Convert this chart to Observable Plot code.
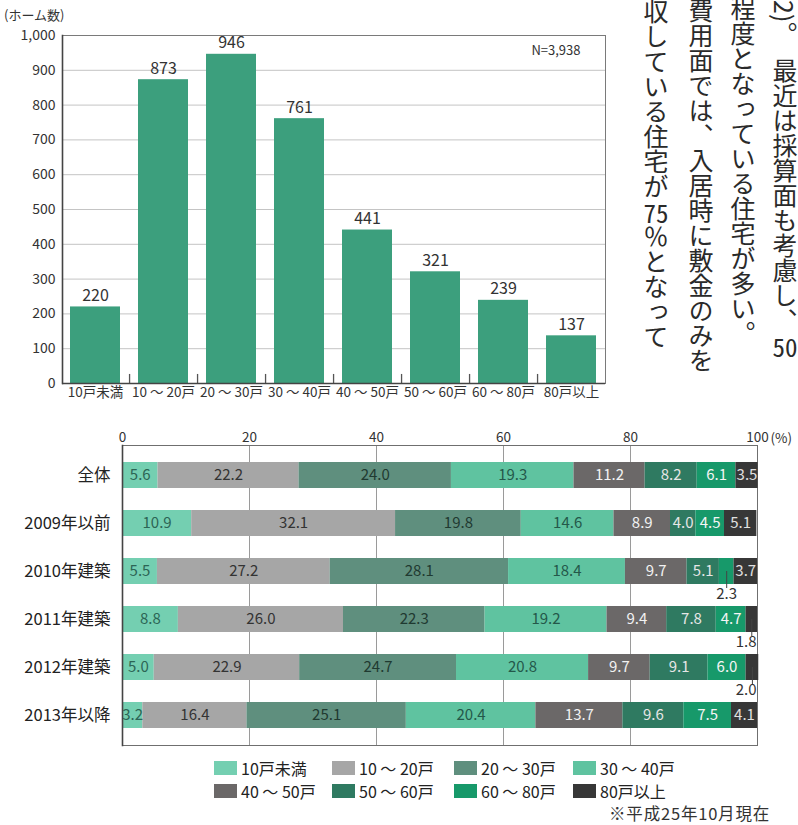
<!DOCTYPE html>
<html>
<head>
<meta charset="utf-8">
<script src="https://cdn.jsdelivr.net/npm/d3@7"></script>
<script src="https://cdn.jsdelivr.net/npm/@observablehq/plot@0.6"></script>
<style>
  body { margin: 0; background: #fff; }
  #page { position: relative; width: 798px; height: 825px; overflow: hidden; background: #fff;
          font-family: "Noto Sans CJK JP", "Noto Sans", sans-serif; color: #333; }
  .abs { position: absolute; }
  .vcol { position: absolute; writing-mode: vertical-rl; text-orientation: mixed; font-size: 25px;
          line-height: 25px; width: 25px; color: #2a2a2a; white-space: nowrap; letter-spacing: 0; }
  .tcy { text-combine-upright: all; }
  #legend { position: absolute; left: 0; top: 759px; width: 798px; height: 44px; font-size: 16px; line-height: 18px; color: #222; }
  .li { position: absolute; display: flex; align-items: center; white-space: nowrap; }
  .sw { width: 23px; height: 14px; margin-right: 4px; }
</style>
</head>
<body>
<div id="page"></div>
<script>
// ---------- data ----------
const sizeCategories = ["10戸未満", "10 ～ 20戸", "20 ～ 30戸", "30 ～ 40戸", "40 ～ 50戸", "50 ～ 60戸", "60 ～ 80戸", "80戸以上"];
const homeCounts = [220, 873, 946, 761, 441, 321, 239, 137];
const countTicks = [0, 100, 200, 300, 400, 500, 600, 700, 800, 900, 1000];

const buildRows = ["全体", "2009年以前", "2010年建築", "2011年建築", "2012年建築", "2013年以降"];
const shareAll  = [5.6, 22.2, 24.0, 19.3, 11.2, 8.2, 6.1, 3.5];
const share2009 = [10.9, 32.1, 19.8, 14.6, 8.9, 4.0, 4.5, 5.1];
const share2010 = [5.5, 27.2, 28.1, 18.4, 9.7, 5.1, 2.3, 3.7];
const share2011 = [8.8, 26.0, 22.3, 19.2, 9.4, 7.8, 4.7, 1.8];
const share2012 = [5.0, 22.9, 24.7, 20.8, 9.7, 9.1, 6.0, 2.0];
const share2013 = [3.2, 16.4, 25.1, 20.4, 13.7, 9.6, 7.5, 4.1];
const percentTicks = [0, 20, 40, 60, 80, 100];

// ---------- styles ----------
const FONT = '"Noto Sans CJK JP", "Noto Sans", sans-serif';
const barGreen = "#3c9f7d";
const segColors = ["#74cfb1", "#a6a6a6", "#5f8f7e", "#5fc3a0", "#6b6868", "#2f7a61", "#17996a", "#373737"];
const segText   = ["#2c6555", "#333333", "#1f3a31", "#24584a", "#f2f2f2", "#e6e6e6", "#f5f5f5", "#e0e0e0"];

const page = document.getElementById("page");

// ---------- top chart ----------
const homeData = sizeCategories.map((c, i) => ({cat: c, count: homeCounts[i]}));
const topW = 620, topML = 62, topMR = 15;
const topStep = (topW - topML - topMR) / sizeCategories.length;

const topChart = Plot.plot({
  width: topW, height: 410,
  marginLeft: topML, marginRight: topMR, marginTop: 35, marginBottom: 27,
  style: {fontFamily: FONT, fontSize: "13px", color: "#333", background: "transparent", overflow: "visible"},
  x: {domain: sizeCategories, paddingInner: 0.26, paddingOuter: 0.1, label: null},
  y: {domain: [0, 1000], label: null},
  marks: [
    Plot.gridY(countTicks.slice(1), {stroke: "#c4c4c4", strokeOpacity: 1}),
    Plot.frame({stroke: "#7a7a7a"}),
    Plot.barY(homeData, {x: "cat", y: "count", fill: barGreen}),
    Plot.text(homeData, {x: "cat", y: "count", text: d => String(d.count), dy: -11, fontSize: 16, fill: "#333"}),
    Plot.ruleX(sizeCategories.slice(1), {x: d => d, y1: 0, y2: 26, dx: -topStep / 2, stroke: "#555", strokeWidth: 1.3}),
    Plot.ruleY([0], {stroke: "#444", strokeWidth: 1.6}),
    Plot.frame({anchor: "left", stroke: "#444", strokeWidth: 1.6}),
    Plot.axisY({ticks: countTicks, tickSize: 0, tickPadding: 7, tickFormat: d3.format(","), fontSize: 14, fill: "#333", label: null}),
    Plot.axisX({tickSize: 0, tickPadding: 4, fontSize: 13.5, fill: "#333", label: null}),
    Plot.text(["N=3,938"], {frameAnchor: "top-right", text: d => d, dx: -25, dy: 10, fontSize: 13, fill: "#333", textAnchor: "end"})
  ]
});
topChart.classList.add("abs");
topChart.style.left = "0px";
topChart.style.top = "0px";
page.appendChild(topChart);

const yl = document.createElement("div");
yl.className = "abs";
yl.style.cssText = "left:4px;top:5px;font-size:13px;color:#333;";
yl.textContent = "(ホーム数)";
page.appendChild(yl);

// ---------- bottom chart ----------
const shareRows = [shareAll, share2009, share2010, share2011, share2012, share2013];
const segs = [];
buildRows.forEach((r, i) => {
  let c = 0;
  shareRows[i].forEach((v, j) => {
    segs.push({row: r, cat: sizeCategories[j], k: j, v, x1: c, x2: c + v});
    c += v;
  });
});
const inside = segs.filter(d => d.v >= 2.5);
const below = segs.filter(d => d.v < 2.5);
const belowEnd = below.filter(d => d.x2 >= 99.5);
const belowMid = below.filter(d => d.x2 < 99.5);

const bottomChart = Plot.plot({
  width: 798, height: 340,
  marginLeft: 122, marginRight: 41, marginTop: 35, marginBottom: 5,
  style: {fontFamily: FONT, fontSize: "13px", color: "#333", background: "transparent", overflow: "visible"},
  x: {domain: [0, 100], label: null},
  y: {domain: buildRows, paddingInner: 0.467, paddingOuter: 0.31, label: null},
  marks: [
    Plot.gridX([20, 40, 60, 80], {stroke: "#9a9a9a", strokeOpacity: 1}),
    Plot.frame({stroke: "#6f6f6f"}),
    Plot.barX(segs, {x1: "x1", x2: "x2", y: "row", fill: d => segColors[d.k]}),
    Plot.text(inside, {x: d => (d.x1 + d.x2) / 2, y: "row", text: d => d.v.toFixed(1), fill: d => segText[d.k], fontSize: 15, letterSpacing: "-0.5px"}),
    Plot.tickX(below, {x: d => (d.x1 + d.x2) / 2, y: "row", insetTop: 13, insetBottom: -4, stroke: "#444", strokeWidth: 1}),
    Plot.text(belowMid, {x: d => (d.x1 + d.x2) / 2, y: "row", dy: 23, textAnchor: "middle",
      text: d => d.v.toFixed(1), fill: "#333", fontSize: 15, letterSpacing: "-0.5px"}),
    Plot.text(belowEnd, {x: () => 100, y: "row", dy: 23, dx: -1, textAnchor: "end",
      text: d => d.v.toFixed(1), fill: "#333", fontSize: 15, letterSpacing: "-0.5px"}),
    Plot.frame({anchor: "left", stroke: "#444", strokeWidth: 1.6}),
    Plot.axisY({tickSize: 0, tickPadding: 12, fontSize: 16.5, fill: "#222", label: null}),
    Plot.axisX({anchor: "top", ticks: percentTicks, tickSize: 0, tickPadding: 4, fontSize: 13.5, fill: "#333", label: null}),
    Plot.text(["(%)"], {x: () => 100, frameAnchor: "top", text: d => d, dy: -12, dx: 13, textAnchor: "start", fontSize: 13.5, fill: "#333"})
  ]
});
bottomChart.classList.add("abs");
bottomChart.style.left = "0px";
bottomChart.style.top = "410px";
page.appendChild(bottomChart);

// ---------- legend ----------
const legend = document.createElement("div");
legend.id = "legend";
const legX = [214, 332, 454, 573];
sizeCategories.forEach((c, i) => {
  const item = document.createElement("div");
  item.className = "li";
  item.style.left = legX[i % 4] + "px";
  item.style.top = (i < 4 ? 0 : 23) + "px";
  const sw = document.createElement("div");
  sw.className = "sw";
  sw.style.background = segColors[i];
  const tx = document.createElement("span");
  tx.textContent = c;
  item.appendChild(sw);
  item.appendChild(tx);
  legend.appendChild(item);
});
page.appendChild(legend);

const cap = document.createElement("div");
cap.className = "abs";
cap.style.cssText = "right:28px;top:804px;font-size:16.5px;line-height:18px;letter-spacing:0.8px;color:#333;";
cap.textContent = "※平成25年10月現在";
page.appendChild(cap);

// ---------- surrounding page text (vertical) ----------
const cols = [
  {x: 772, y: 0, html: '2)。'},
  {x: 772, y: 58, html: '最近は採算面も考慮し、<span class="tcy">50</span>'},
  {x: 730, y: -4, html: '程度となっている住宅が多い。'},
  {x: 688, y: -2, html: '費用面では、入居時に敷金のみを'},
  {x: 643, y: -1, html: '収している住宅が<span class="tcy">75</span>％となって'}
];
cols.forEach(c => {
  const d = document.createElement("div");
  d.className = "vcol";
  d.style.left = c.x + "px";
  d.style.top = c.y + "px";
  d.innerHTML = c.html;
  page.appendChild(d);
});
</script>
</body>
</html>
